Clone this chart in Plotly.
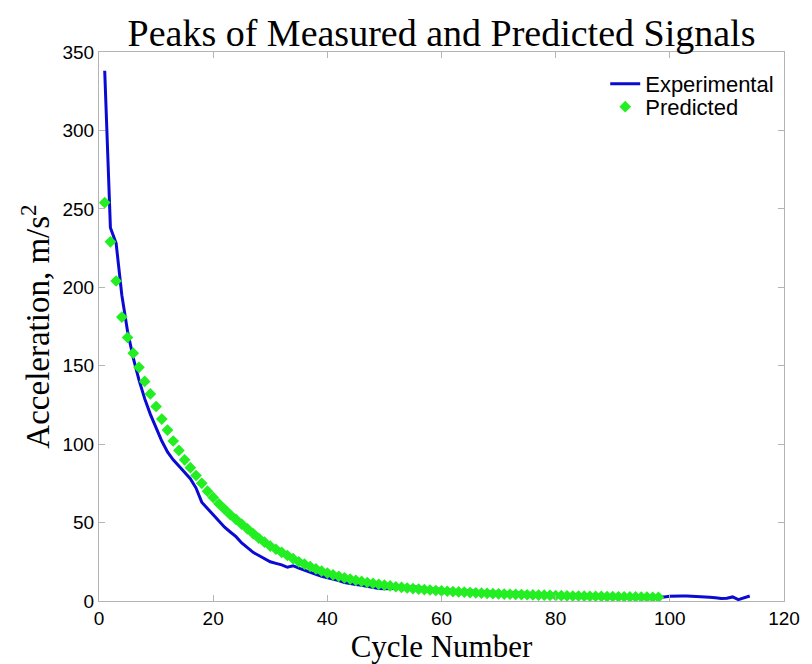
import plotly.graph_objects as go

title_text = "Peaks of Measured and Predicted Signals"
x_title = "Cycle Number"
y_title = "Acceleration, m/s<sup>2</sup>"

exp_cycles = list(range(1, 115))
exp_values = [
    338, 238, 228, 195, 172, 155, 141, 129, 119, 110,
    102, 95, 90, 86, 82, 78, 72, 63, 59, 55,
    51, 47, 44, 41, 37, 34, 31, 29, 27, 25,
    24, 23, 21.5, 22.5, 21, 19.5, 18, 17, 15.8, 15,
    14, 13, 11.8, 11, 10.5, 10, 9.3, 8.7, 8, 7.8,
    7.9, 8.4, 8.1, 8.8, 9.3, 8.6, 8.1, 7.8, 7.6, 7.3,
    7.0, 6.9, 6.6, 6.8, 6.3, 6.0, 6.1, 5.8, 5.7, 5.5,
    5.3, 5.2, 5.0, 4.8, 4.9, 4.6, 4.5, 4.4, 4.3, 4.2,
    4.1, 4.0, 3.9, 3.8, 3.8, 3.6, 3.5, 3.5, 3.4, 3.3,
    3.3, 3.2, 3.2, 3.1, 3.1, 3.0, 3.0, 2.9, 2.6, 3.0,
    3.3, 3.2, 3.2, 3.1, 2.9, 2.7, 2.4, 2.0, 1.6, 1.7,
    2.6, 0.9, 2.2, 3.2,
]

pred_cycles = list(range(1, 99))
pred_values = [
    254, 229, 204, 181, 168, 158, 149, 140, 132, 124,
    116, 109, 102, 96, 90, 85, 80, 75, 70, 66,
    62, 58.5, 55, 52, 49, 46, 43, 40, 37.5, 35,
    33, 31, 29, 27, 25, 23.5, 22, 20.5, 19, 17.8,
    16.7, 15.7, 14.8, 14, 13.2, 12.5, 11.8, 11.2, 10.6, 10.1,
    9.6, 9.1, 8.7, 8.3, 7.9, 7.6, 7.3, 7.0, 6.7, 6.4,
    6.2, 6.0, 5.8, 5.6, 5.4, 5.2, 5.0, 4.9, 4.7, 4.6,
    4.4, 4.3, 4.2, 4.1, 4.0, 3.9, 3.8, 3.7, 3.6, 3.5,
    3.4, 3.3, 3.2, 3.2, 3.1, 3.0, 3.0, 2.9, 2.8, 2.8,
    2.7, 2.7, 2.6, 2.6, 2.5, 2.5, 2.4, 2.4,
]

x_ticks = [0, 20, 40, 60, 80, 100, 120]
y_ticks = [0, 50, 100, 150, 200, 250, 300, 350]

serif = "Times New Roman, Liberation Serif, serif"
sans = "Arial, Liberation Sans, sans-serif"

fig = go.Figure()
fig.add_trace(go.Scatter(
    x=exp_cycles, y=exp_values, mode="lines", name="Experimental",
    line=dict(color="#0a0ad2", width=3), legend="legend",
))
fig.add_trace(go.Scatter(
    x=pred_cycles, y=pred_values, mode="markers", name="Predicted",
    marker=dict(symbol="diamond", color="#22ee22", size=9, line=dict(width=0)),
    legend="legend2",
))

axis_common = dict(
    showline=True, linecolor="#b4b4b4", linewidth=1, mirror="ticks",
    ticks="inside", ticklen=6, tickcolor="#b4b4b4", tickwidth=1,
    showgrid=False, zeroline=False,
    tickfont=dict(family=sans, size=19, color="black"),
)

legend_common = dict(
    xanchor="left", yanchor="middle", x=0.739,
    bgcolor="rgba(0,0,0,0)", borderwidth=0,
    font=dict(family=sans, size=22, color="black"),
)

fig.update_layout(
    width=812, height=664,
    margin=dict(l=99, r=23, t=52, b=60),
    paper_bgcolor="white", plot_bgcolor="white",
    title=dict(text=title_text, xref="paper", x=0.5, xanchor="center", y=0.951, yanchor="middle",
               font=dict(family=serif, size=38, color="black")),
    xaxis=dict(range=[0, 120], tickvals=x_ticks, ticktext=[str(v) for v in x_ticks],
               title=dict(text=x_title, font=dict(family=serif, size=31, color="black"), standoff=2),
               **axis_common),
    yaxis=dict(range=[0, 350], tickvals=y_ticks, ticktext=[str(v) for v in y_ticks],
               title=dict(text=y_title, font=dict(family=serif, size=33, color="black"), standoff=2),
               **axis_common),
    legend=dict(y=0.942, **legend_common),
    legend2=dict(y=0.900, **legend_common),
    showlegend=True,
)

fig.write_html("out.html")
